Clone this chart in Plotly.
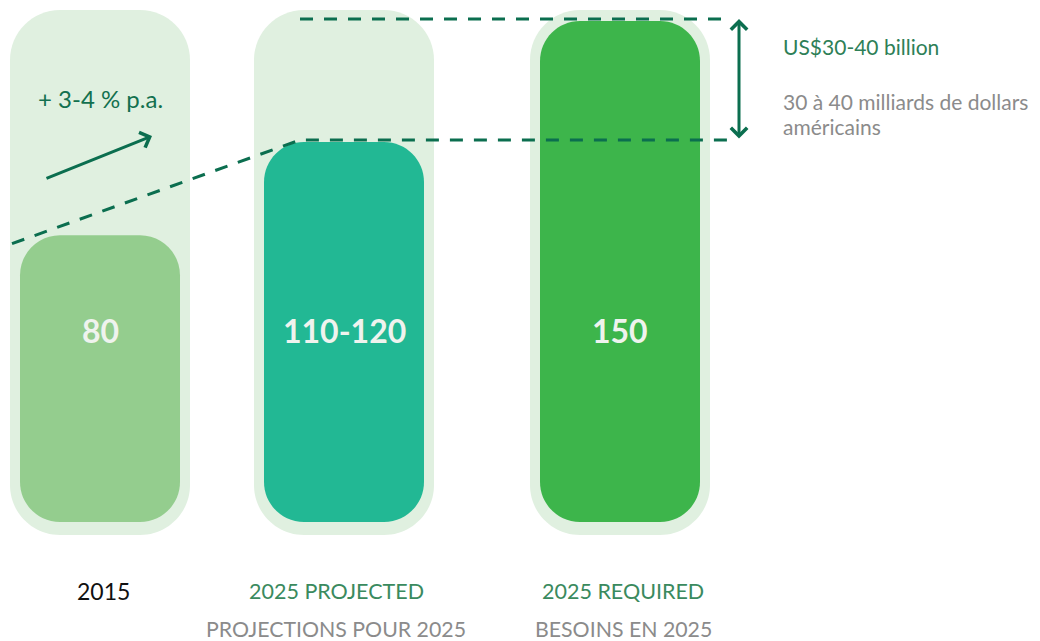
import plotly.graph_objects as go

# ---------------- data ----------------
categories_en = ["2015", "2025 PROJECTED", "2025 REQUIRED"]
categories_fr = ["", "PROJECTIONS POUR 2025", "BESOINS EN 2025"]
value_labels = ["80", "110-120", "150"]
bar_heights = [86, 114, 150.3]          # drawn heights
track_top = 153.6                        # light background capsule
track_bottom = -3.9
gap_low = 114.6                          # projected level (dashed)
gap_high = 150.9                         # required level (dashed)
trend_start = 83.5                       # dashed trend line start level
growth_label = "+ 3-4 % p.a."
gap_label_en = "US$30-40 billion"
gap_label_fr = ["30 à 40 milliards de dollars", "américains"]

# ---------------- layout constants ----------------
X_CENTERS = [100, 344, 620]
LABEL_X = [103, 336, 623]
X_RANGE = [0, 1040]          # 1 x-unit = 1 px
Y_RANGE = [-35.7, 156.6]     # 1 y-unit = 10/3 px
Y_UNITS_PER_PX = (Y_RANGE[1] - Y_RANGE[0]) / 641
TRACK_W, BAR_W = 180, 160
TRACK_R, BAR_R = 50, 40
TRACK_COLOR = "#E0F0E0"
BAR_COLORS = ["#94CD8E", "#22B894", "#3DB54B"]
DARK = "#0B6E4F"
GREEN_TXT = "#3A8A5E"
GRAY_TXT = "#8B8B8B"
FONT = "Lato"

fig = go.Figure()
shapes = []


def capsule_path(xc, width, bottom, top, r_px):
    """Rounded rectangle in data coordinates (quarter circles via cubic Beziers)."""
    x0, x1 = xc - width / 2, xc + width / 2
    rx = r_px
    ry = min(r_px * Y_UNITS_PER_PX, (top - bottom) / 2)
    k = 0.5523
    p = [
        f"M{x0},{bottom + ry}",
        f"L{x0},{top - ry}",
        f"C{x0},{top - ry + k * ry} {x0 + rx - k * rx},{top} {x0 + rx},{top}",
        f"L{x1 - rx},{top}",
        f"C{x1 - rx + k * rx},{top} {x1},{top - ry + k * ry} {x1},{top - ry}",
        f"L{x1},{bottom + ry}",
        f"C{x1},{bottom + ry - k * ry} {x1 - rx + k * rx},{bottom} {x1 - rx},{bottom}",
        f"L{x0 + rx},{bottom}",
        f"C{x0 + rx - k * rx},{bottom} {x0},{bottom + ry - k * ry} {x0},{bottom + ry}",
        "Z",
    ]
    return " ".join(p)


for xc in X_CENTERS:
    shapes.append(dict(type="path", xref="x", yref="y", layer="below",
                       path=capsule_path(xc, TRACK_W, track_bottom, track_top, TRACK_R),
                       fillcolor=TRACK_COLOR, line=dict(width=0)))
for xc, h, col in zip(X_CENTERS, bar_heights, BAR_COLORS):
    shapes.append(dict(type="path", xref="x", yref="y", layer="below",
                       path=capsule_path(xc, BAR_W, 0, h, BAR_R),
                       fillcolor=col, line=dict(width=0)))

# invisible bar trace carrying the values (keeps axes/scales bound to data)
fig.add_trace(go.Bar(x=X_CENTERS, y=bar_heights, width=BAR_W,
                     marker=dict(color="rgba(0,0,0,0)", line=dict(width=0)),
                     hoverinfo="skip", showlegend=False))

# dashed trend line and the two level lines
fig.add_trace(go.Scatter(
    x=[12, 300, 732], y=[trend_start, gap_low, gap_low], mode="lines",
    line=dict(color=DARK, width=3, dash="13px,11px"),
    hoverinfo="skip", showlegend=False))
fig.add_trace(go.Scatter(
    x=[300, 732], y=[gap_high, gap_high], mode="lines",
    line=dict(color=DARK, width=3, dash="13px,11px"),
    hoverinfo="skip", showlegend=False))

annotations = []
# growth arrow
annotations.append(dict(
    x=152, y=115.8, ax=45, ay=102.9, xref="x", yref="y", axref="x", ayref="y",
    text="", showarrow=True, arrowhead=4, arrowsize=1.05, arrowwidth=3,
    arrowcolor=DARK, standoff=0))
# double arrow for the gap
annotations.append(dict(
    x=739, y=gap_high, ax=739, ay=gap_low, xref="x", yref="y", axref="x", ayref="y",
    text="", showarrow=True, arrowhead=4, startarrowhead=4, arrowside="end+start",
    arrowsize=1.05, startarrowsize=1.05, arrowwidth=3, arrowcolor=DARK,
    standoff=0, startstandoff=0))

annotations.append(dict(
    x=100, y=127.2, xref="x", yref="y", text=growth_label, showarrow=False,
    font=dict(family=FONT, size=24, color="#13704F")))

for xc, lab in zip(X_CENTERS, value_labels):
    annotations.append(dict(
        x=xc, y=57.6, xref="x", yref="y", text=lab, showarrow=False,
        font=dict(family=FONT, size=32, color="#EFF3EE", weight="bold")))

annotations.append(dict(
    x=781, y=142.8, xref="x", yref="y", xanchor="left", text=gap_label_en,
    showarrow=False, font=dict(family=FONT, size=21, color="#2E7F57")))
for i, line in enumerate(gap_label_fr):
    annotations.append(dict(
        x=781, y=126.3 - i * 7.5, xref="x", yref="y", xanchor="left", text=line,
        showarrow=False, font=dict(family=FONT, size=21, color=GRAY_TXT)))

for i, (xc, en, fr) in enumerate(zip(LABEL_X, categories_en, categories_fr)):
    annotations.append(dict(
        x=xc, y=-20.7, xref="x", yref="y", text=en, showarrow=False,
        font=dict(family=FONT, size=23 if i == 0 else 21.5,
                  color="#111111" if i == 0 else GREEN_TXT)))
    if fr:
        annotations.append(dict(
            x=xc, y=-32.1, xref="x", yref="y", text=fr, showarrow=False,
            font=dict(family=FONT, size=21.3, color=GRAY_TXT)))

fig.update_layout(
    width=1040, height=641,
    margin=dict(l=0, r=0, t=0, b=0),
    paper_bgcolor="white", plot_bgcolor="white",
    barmode="overlay", bargap=0,
    xaxis=dict(range=X_RANGE, visible=False, fixedrange=True),
    yaxis=dict(range=Y_RANGE, visible=False, fixedrange=True),
    shapes=shapes,
    annotations=annotations,
    showlegend=False,
)

fig.write_html("out.html", config={"displayModeBar": False},
               post_script="document.body.style.margin='0';")
